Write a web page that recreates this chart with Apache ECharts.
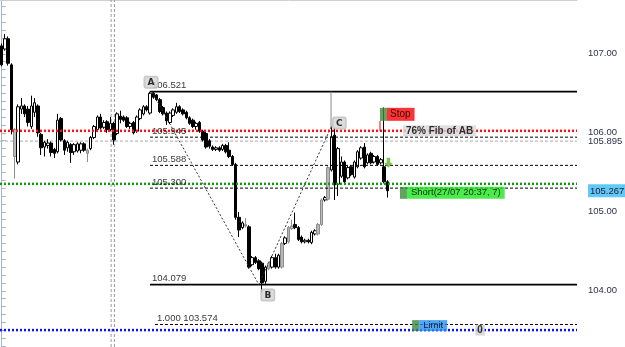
<!DOCTYPE html>
<html><head><meta charset="utf-8">
<script src="https://cdn.jsdelivr.net/npm/echarts@6/dist/echarts.min.js"></script>
<style>html,body{margin:0;padding:0;background:#fff}#c{width:625px;height:347px}</style>
</head><body><div id="c"></div><script>
// ---- data ----
const opens = [107.10,107.06,107.19,106.86,106.04,105.63,106.30,106.34,106.30,106.08,
106.26,106.34,105.98,105.82,105.84,105.87,105.79,105.76,106.18,105.90,
105.81,105.85,105.76,105.77,105.78,105.86,105.78,105.80,105.94,106.04,
106.20,106.07,106.14,106.04,106.12,105.99,106.21,106.20,106.19,106.08,
106.13,106.02,106.18,106.24,106.33,106.25,106.50,106.48,106.42,106.32,
106.25,106.13,106.22,106.26,106.33,106.29,106.26,106.19,106.16,106.08,
106.13,106.02,105.99,105.90,105.82,105.79,105.81,105.79,105.84,105.78,
105.70,105.60,104.93,104.80,104.84,104.81,104.33,104.42,104.38,104.35,
104.12,104.28,104.30,104.42,104.30,104.30,104.60,104.62,104.79,104.84,
104.80,104.68,104.62,104.64,104.61,104.72,104.72,104.84,105.15,105.16,
105.53,105.97,105.35,105.45,105.63,105.43,105.57,105.44,105.57,105.68,
105.82,105.62,105.74,105.63,105.70,105.62,105.57,105.38];
const closes = [106.86,107.19,106.88,106.04,105.70,106.33,106.34,106.24,106.13,106.34,
106.38,106.00,105.81,105.88,105.87,105.75,105.74,106.16,105.91,105.78,
105.88,105.75,105.85,105.86,105.86,105.78,105.74,105.94,106.08,106.20,
106.06,106.13,106.04,106.12,105.91,106.24,106.17,106.16,106.08,106.12,
106.00,106.20,106.29,106.33,106.29,106.50,106.45,106.42,106.27,106.24,
106.15,106.25,106.29,106.33,106.27,106.24,106.19,106.12,106.08,106.12,
106.02,105.91,105.82,105.83,105.79,105.81,105.78,105.84,105.76,105.70,
105.60,104.93,104.77,104.86,104.82,104.30,104.42,104.36,104.28,104.10,
104.30,104.35,104.42,104.30,104.45,104.60,104.67,104.80,104.82,104.80,
104.65,104.62,104.64,104.62,104.74,104.76,104.84,105.15,105.18,105.56,
105.95,105.34,105.80,105.63,105.38,105.56,105.47,105.63,105.76,105.81,
105.57,105.72,105.62,105.70,105.60,105.66,105.38,105.267];
const lows = [106.84,107.04,106.85,105.98,105.42,105.60,106.24,106.20,106.08,106.05,
106.20,105.95,105.72,105.70,105.80,105.70,105.68,105.74,105.89,105.72,
105.76,105.62,105.72,105.75,105.74,105.76,105.63,105.78,105.92,106.02,
106.04,106.05,106.00,106.02,105.85,105.97,106.12,106.14,106.06,106.05,
105.98,106.00,106.16,106.22,106.27,106.23,106.43,106.40,106.25,106.22,
106.10,106.11,106.20,106.24,106.25,106.22,106.17,106.10,106.06,106.04,
106.00,105.89,105.80,105.80,105.77,105.77,105.76,105.77,105.74,105.68,
105.58,104.90,104.68,104.78,104.80,104.28,104.31,104.34,104.26,103.98,
104.08,104.26,104.28,104.28,104.28,104.28,104.58,104.60,104.77,104.78,
104.63,104.60,104.60,104.60,104.59,104.70,104.70,104.82,105.13,105.14,
105.51,105.15,105.20,105.43,105.36,105.41,105.45,105.42,105.55,105.66,
105.55,105.60,105.60,105.61,105.58,105.60,105.36,105.18];
const highs = [107.13,107.25,107.22,106.88,106.06,106.36,106.44,106.36,106.34,106.47,
106.44,106.36,106.00,105.90,105.92,105.89,105.81,106.24,106.20,105.92,
105.90,105.87,105.87,105.88,105.88,105.88,105.80,105.96,106.10,106.22,
106.24,106.16,106.16,106.20,106.14,106.26,106.28,106.22,106.21,106.14,
106.15,106.22,106.31,106.35,106.35,106.521,106.52,106.49,106.44,106.34,
106.27,106.27,106.31,106.38,106.35,106.31,106.28,106.21,106.18,106.14,
106.15,106.04,106.01,105.92,105.84,105.83,105.83,105.86,105.86,105.88,
105.72,105.62,105.00,104.88,104.92,104.83,104.44,104.44,104.40,104.37,
104.32,104.37,104.44,104.47,104.47,104.62,104.69,104.82,104.90,104.99,
104.82,104.70,104.66,104.66,104.76,104.78,104.86,105.17,105.20,105.58,
106.08,106.06,105.82,105.70,105.65,105.58,105.59,105.65,105.78,105.83,
105.87,105.74,105.76,105.72,105.72,105.68,106.32,105.40];
const greyBars = [4,26,74,81,85,87,88,96,97,99];
const barSlots = 175;
const priceTicks = [104, 105, 106, 107];
const lastPrice = 105.267;
const bidPrice = 105.895;
const stopLevel = 106.025;
const entryLevel = 105.354;
const limitLevel = 103.503;
const fibPrices = [106.521, 105.945, 105.588, 105.300, 104.079, 103.574];
const fibTexts = ['106.521', '105.945', '105.588', '105.300', '104.079', '1.000 103.574'];
const fibStartBars = [45, 45, 45, 45, 45, 46.5];
const pointA = [45.6, 106.521];
const pointB = [78, 104.079];
const pointC = [100, 106.08];
const yMin = 103.289, yMax = 107.681;

// ---- chart ----
const FONT = 'Liberation Sans';
const xEnd = barSlots - 0.5;
const catLabels = Array.from({length: barSlots}, (_, i) => String(i));
const greyStyle = {color:'#b8b8b8', color0:'#b8b8b8', borderColor:'#8c8c8c', borderColor0:'#8c8c8c'};
const candleData = opens.map((o, i) => {
  const v = [o, closes[i], lows[i], highs[i]];
  return greyBars.includes(i) ? {value: v, itemStyle: greyStyle} : v;
});
const seg = (pts, ls, z) => ({type:'line', xAxisIndex:1, yAxisIndex:0, data:pts, symbol:'none',
  silent:true, lineStyle:ls, z:z||3});
const dotted = c => ({color:c, width:2.5, type:[2,2], cap:'butt'});
const dashedBlack = {color:'#000', width:1, type:[3,2]};

const series = [];
series.push({type:'candlestick', xAxisIndex:0, yAxisIndex:0, data:candleData, barWidth:3, z:2,
  itemStyle:{color:'#ffffff', color0:'#000000', borderColor:'#000000', borderColor0:'#000000', borderWidth:1}});
series.push(seg([[-0.5,bidPrice],[xEnd,bidPrice]], {color:'#ababab', width:1, type:[3,2]}, 1));
fibPrices.forEach((p, k) => {
  const solid = (k === 0 || k === 4);
  series.push(seg([[fibStartBars[k], p],[xEnd, p]], solid ? {color:'#000', width:1.6} : dashedBlack, 3));
});
series.push(seg([[-0.5,stopLevel],[xEnd,stopLevel]], dotted('#ff1010'), 4));
series.push(seg([[-0.5,entryLevel],[xEnd,entryLevel]], dotted('#129a12'), 4));
series.push(seg([[-0.5,limitLevel],[xEnd,limitLevel]], dotted('#1010ff'), 4));
series.push(seg([pointA, pointB, pointC], {color:'#333', width:1, type:[2,2]}, 3));
series.push(seg([[99.9,106.521],[99.9,106.06]], {color:'#8a8a8a', width:1}, 3));
series.push(seg([[114.75,106.15],[114.75,stopLevel]], {color:'#ff0000', width:1}, 5));
series.push(seg([[33.2,yMin],[33.2,yMax]], {color:'#9a9a9a', width:1, type:[3,2]}, 1));
series.push(seg([[34.2,yMin],[34.2,yMax]], {color:'#9a9a9a', width:1, type:[3,2]}, 1));

// fib level texts
fibPrices.forEach((p, k) => {
  series.push({type:'scatter', xAxisIndex:1, yAxisIndex:0, symbolSize:0, silent:true, z:6,
    data:[[fibStartBars[k] + 0.6, p]],
    label:{show:true, position:'right', distance:0, offset:[0,-6], formatter:fibTexts[k],
      fontFamily:FONT, fontSize:9.5, color:'#000'}});
});
const box = (pt, text, extra, z) => ({type:'scatter', xAxisIndex:1, yAxisIndex:0, symbolSize:0, silent:true, z:z||7,
  data:[pt], label:Object.assign({show:true, formatter:text, fontFamily:FONT, fontSize:10, color:'#000'}, extra)});
const letterBox = {backgroundColor:'#d4d4d4', borderColor:'#b4b4b4', borderWidth:1, borderRadius:2,
  padding:[2,3,0,3], fontWeight:'bold', fontFamily:'DejaVu Sans', fontSize:9};
series.push(box(pointA, 'A', Object.assign({position:'top', distance:4, offset:[-1,0]}, letterBox)));
series.push(box(pointB, 'B', Object.assign({position:'bottom', distance:5, offset:[9,0]}, letterBox)));
series.push(box(pointC, 'C', Object.assign({position:'top', distance:0, offset:[8,2]}, letterBox)));
const rich = {
  g:{backgroundColor:'#3d8a3d', width:7, height:13},
  r:{backgroundColor:'#ff0000', height:13, lineHeight:13, padding:[0,4,0,3], fontFamily:FONT, fontSize:10, color:'#000'},
  s:{backgroundColor:'#1ee61e', height:12, lineHeight:12, padding:[0,4,0,4], fontFamily:FONT, fontSize:9.5, color:'#000'},
  b:{backgroundColor:'#2490f2', height:11, lineHeight:11, padding:[0,4,0,4], fontFamily:FONT, fontSize:9.5, color:'#000'}
};
const rg = {g:Object.assign({}, rich.g, {height:12})};
const rgl = {g:Object.assign({}, rich.g, {height:11})};
series.push(box([114.75, 106.234], '{g| }{r|Stop}', {position:'right', distance:0, rich:{g:rich.g, r:rich.r}}));
series.push(box([121.7, stopLevel], '76% Fib of AB', {position:'right', distance:0, backgroundColor:'#d8d8d8',
  padding:[1,3,0,3], fontWeight:'bold', fontSize:10}));
series.push(box([120.8, 105.24], '{g| }{s|Short(27/07 20:37, 7)}', {position:'right', distance:0, rich:{g:rg.g, s:rich.s}}));
series.push(box([124.5, 103.56], '{g| }{b|Limit}', {position:'right', distance:0, rich:{g:rgl.g, b:rich.b}}));
series.push(box([145.1, limitLevel], '0', {position:'inside', backgroundColor:'#cfcfcf', padding:[1,2,0,2], fontWeight:'bold', fontSize:10}));
series.push({type:'scatter', xAxisIndex:1, yAxisIndex:0, silent:true, z:8,
  symbol:'path://M3,0 L7,0 L7,5 L10,5 L5,10 L0,5 L3,5 Z', symbolSize:[9,10],
  itemStyle:{color:'#5cb82a'}, data:[[117.3, 105.62]]});

const minorTicks = [];
for (let t = 103.3; t < 107.7; t += 0.1) minorTicks.push(Math.round(t*10)/10);

const chart = echarts.init(document.getElementById('c'));
chart.setOption({
  animation:false,
  backgroundColor:'#ffffff',
  grid:{left:0, right:48, top:0, bottom:0, containLabel:false, outerBoundsMode:'none'},
  xAxis:[
    {type:'category', data:catLabels, show:false, boundaryGap:true},
    {type:'value', min:-0.5, max:xEnd, position:'top', axisLine:{show:true, onZero:false, lineStyle:{color:'#c8d0dc'}},
     axisTick:{show:false}, axisLabel:{show:false}, splitLine:{show:false}}
  ],
  yAxis:{type:'value', position:'right', min:yMin, max:yMax, scale:true,
    axisLine:{show:true, lineStyle:{color:'#a8b4c6'}},
    axisTick:{show:true, length:4, customValues:minorTicks, lineStyle:{color:'#a8b4c6'}},
    splitLine:{show:false},
    axisLabel:{show:true, margin:11, customValues:[104,105,lastPrice,bidPrice,106,107],
      fontFamily:FONT, fontSize:9.5, color:'#30304a',
      formatter: v => v === lastPrice ? '{cur|' + v.toFixed(3) + '}' : (v === bidPrice ? v.toFixed(3) : v.toFixed(2)),
      rich:{cur:{backgroundColor:'#62c8f6', padding:[2,4,1,2], fontFamily:FONT, fontSize:9.5, color:'#20203a'}}}
  },
  series:series
});
</script></body></html>
